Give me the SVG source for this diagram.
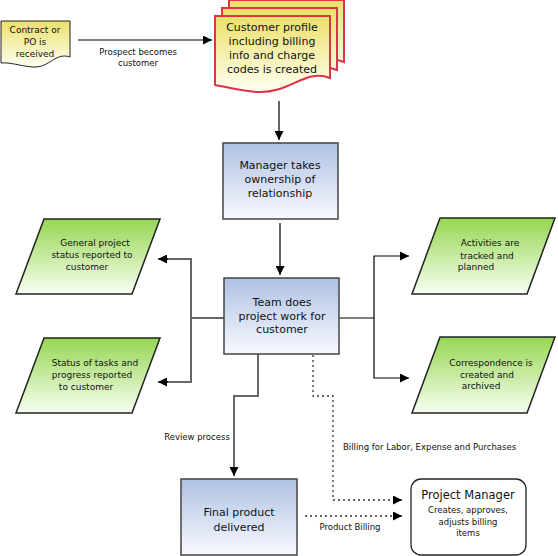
<svg xmlns="http://www.w3.org/2000/svg" width="558" height="556" viewBox="0 0 558 556">
<defs>
<linearGradient id="gY" x1="0" y1="0" x2="0" y2="1"><stop offset="0" stop-color="#ece06a"/><stop offset="1" stop-color="#fffff4"/></linearGradient>
<linearGradient id="gB" x1="0" y1="0" x2="0" y2="1"><stop offset="0" stop-color="#aec2e2"/><stop offset="1" stop-color="#f8f9ff"/></linearGradient>
<linearGradient id="gG" x1="0" y1="0" x2="0" y2="1"><stop offset="0" stop-color="#96d652"/><stop offset="1" stop-color="#f8fff2"/></linearGradient>
<marker id="ah" markerUnits="userSpaceOnUse" markerWidth="9" markerHeight="9" refX="9" refY="4.5" orient="auto"><path d="M0,0 L9,4.5 L0,9 z" fill="#000"/></marker>
<path id="doc" d="M0,0 H115 V62 C90,52 75,78 42,76 C25,75 12,71 0,69 Z"/>
</defs>
<style>
text{font-family:"DejaVu Sans","Verdana",sans-serif;fill:#111;text-anchor:middle}
.t11{font-size:11px}
.t9{font-size:9px}
.t8{font-size:8.5px}
.box{fill:url(#gB);stroke:#444;stroke-width:1.5}
.para{fill:url(#gG);stroke:#222;stroke-width:1.5}
.sheet{fill:url(#gY);stroke:#dd3344;stroke-width:2}
.c{fill:none;stroke:#000;stroke-width:1.2}
.g{fill:none;stroke:#666;stroke-width:2}
.d{fill:none;stroke:#333;stroke-width:1.3;stroke-dasharray:2,3}
</style>
<g id="connectors">
<path class="c" d="M78,40 H212" marker-end="url(#ah)"/>
<path class="c" d="M279,101 V140" marker-end="url(#ah)"/>
<path class="c" d="M280,223 V275" marker-end="url(#ah)"/>
<path class="g" d="M224,318 H191"/>
<path class="g" d="M191,318 V259 H166"/>
<path class="c" d="M168,259 H158" marker-end="url(#ah)"/>
<path class="g" d="M191,318 V382 H166"/>
<path class="c" d="M168,382 H158" marker-end="url(#ah)"/>
<path class="c" d="M339,318 H374 V256 H409" marker-end="url(#ah)"/>
<path class="c" d="M374,318 V378 H409" marker-end="url(#ah)"/>
<path class="g" d="M258,354 V396 H234 V470"/>
<path class="c" d="M234,468 V476" marker-end="url(#ah)"/>
<path class="d" d="M313,355 V396 H333 V500 H396"/>
<path class="c" d="M394,500 H402" marker-end="url(#ah)"/>
<path class="d" d="M305,516 H396"/>
<path class="c" d="M394,516 H402" marker-end="url(#ah)"/>
<text class="t8" x="138" y="55">Prospect becomes</text>
<text class="t8" x="138" y="66">customer</text>
<text class="t8" x="197" y="440">Review process</text>
<text class="t8" x="343" y="450" style="text-anchor:start">Billing for Labor, Expense and Purchases</text>
<text class="t8" x="350" y="530">Product Billing</text>
</g>
<g id="contract">
<path d="M1,21 H70 V57 C55,52 50,68 33,67 C20,66 10,62 1,63 Z" fill="url(#gY)" stroke="#222" stroke-width="1"/>
<text class="t9" x="35" y="33">Contract or</text>
<text class="t9" x="35" y="45">PO is</text>
<text class="t9" x="35" y="57">received</text>
</g>
<g id="profile">
<use href="#doc" class="sheet" x="229" y="0"/>
<use href="#doc" class="sheet" x="222" y="8"/>
<use href="#doc" class="sheet" x="215" y="16"/>
<text class="t11" x="272" y="31">Customer profile</text>
<text class="t11" x="272" y="45">including billing</text>
<text class="t11" x="272" y="59">info and charge</text>
<text class="t11" x="272" y="73">codes is created</text>
</g>
<g id="manager">
<rect class="box" x="223" y="143" width="115" height="76"/>
<text class="t11" x="280" y="169">Manager takes</text>
<text class="t11" x="280" y="183">ownership of</text>
<text class="t11" x="280" y="197">relationship</text>
</g>
<g id="team">
<rect class="box" x="224" y="278" width="115" height="76"/>
<text class="t11" x="282" y="306">Team does</text>
<text class="t11" x="282" y="320">project work for</text>
<text class="t11" x="282" y="333">customer</text>
</g>
<g id="general">
<polygon class="para" points="44,219 160,219 132,294 16,294"/>
<text class="t9" x="95" y="246">General project</text>
<text class="t9" x="92" y="258">status reported to</text>
<text class="t9" x="87" y="270">customer</text>
</g>
<g id="status">
<polygon class="para" points="44,338 160,338 132,413 16,413"/>
<text class="t9" x="95" y="366">Status of tasks and</text>
<text class="t9" x="92" y="378">progress reported</text>
<text class="t9" x="86" y="390">to customer</text>
</g>
<g id="activities">
<polygon class="para" points="440,218 555,218 527,294 412,294"/>
<text class="t9" x="490" y="246">Activities are</text>
<text class="t9" x="487" y="259">tracked and</text>
<text class="t9" x="476" y="270">planned</text>
</g>
<g id="correspondence">
<polygon class="para" points="440,337 555,337 527,413 412,413"/>
<text class="t9" x="491" y="366">Correspondence is</text>
<text class="t9" x="487" y="378">created and</text>
<text class="t9" x="481" y="389">archived</text>
</g>
<g id="final">
<rect class="box" x="181" y="479" width="116" height="76"/>
<text class="t11" x="239" y="516">Final product</text>
<text class="t11" x="239" y="531">delivered</text>
</g>
<g id="pm">
<rect x="411" y="479" width="115" height="76" rx="10" fill="#fff" stroke="#222" stroke-width="1.3"/>
<text class="t11" x="468" y="499" style="font-size:11.5px">Project Manager</text>
<text class="t8" x="468" y="513">Creates, approves,</text>
<text class="t8" x="468" y="525">adjusts billing</text>
<text class="t8" x="468" y="536">items</text>
</g>
</svg>
